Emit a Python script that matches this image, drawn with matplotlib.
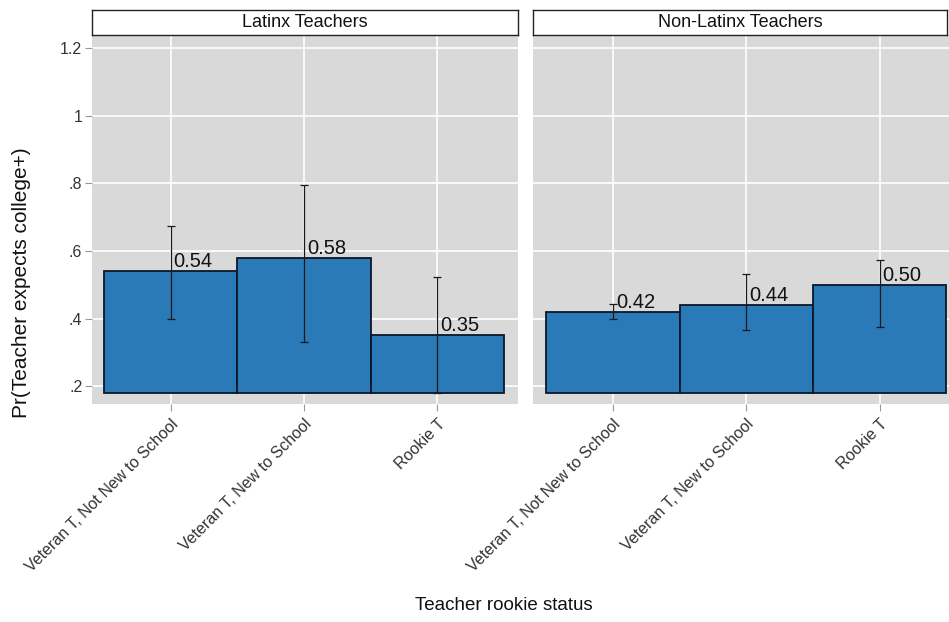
import matplotlib.pyplot as plt

plt.rcParams['font.family'] = ['Liberation Sans', 'DejaVu Sans']

# predicted probabilities by teacher rookie status
categories = ["Veteran T, Not New to School", "Veteran T, New to School", "Rookie T"]
panels = ["Latinx Teachers", "Non-Latinx Teachers"]
estimates = {
    "Latinx Teachers": [0.54, 0.58, 0.35],
    "Non-Latinx Teachers": [0.42, 0.44, 0.50],
}
ci_low = {
    "Latinx Teachers": [0.40, 0.33, 0.18],
    "Non-Latinx Teachers": [0.40, 0.366, 0.375],
}
ci_high = {
    "Latinx Teachers": [0.675, 0.795, 0.522],
    "Non-Latinx Teachers": [0.443, 0.531, 0.573],
}
ytick_vals = [0.2, 0.4, 0.6, 0.8, 1.0, 1.2]
ytick_labels = [".2", ".4", ".6", ".8", "1", "1.2"]

BASE = 0.18
BG = '#d9d9d9'
BAR = '#2a7ab7'
EDGE = '#0e1726'

fig = plt.figure(figsize=(9.49, 6.22), dpi=100)

W, H = 949, 622
panel_px = [(92, 518, 0.41, 3.605), (533, 949, 0.40, 3.52)]

for i, name in enumerate(panels):
    x0, x1, xl, xr = panel_px[i]
    ax = fig.add_axes([x0 / W, (H - 404) / H, (x1 - x0) / W, 368 / H])
    ax.set_facecolor(BG)
    for s in ax.spines.values():
        s.set_visible(False)

    xs = [1, 2, 3]
    vals = estimates[name]
    heights = [v - BASE for v in vals]
    ax.bar(xs, heights, width=1.0, bottom=BASE, color=BAR,
           edgecolor=EDGE, linewidth=1.3, zorder=3)

    lo = [v - l for v, l in zip(vals, ci_low[name])]
    hi = [h - v for v, h in zip(vals, ci_high[name])]
    ax.errorbar(xs, vals, yerr=[lo, hi], fmt='none', ecolor='#1a1a1a',
                elinewidth=0.9, capsize=3, capthick=0.9, zorder=4)

    for x, v in zip(xs, vals):
        ax.annotate(f"{v:.2f}", (x, v), xytext=(2, 0), textcoords='offset points',
                    ha='left', va='bottom', fontsize=14.5, color='#111111', zorder=5)

    ax.set_xlim(xl, xr)
    ax.set_ylim(0.147, 1.236)
    ax.set_yticks(ytick_vals)
    ax.set_xticks(xs)
    ax.grid(True, color='white', linewidth=1.2, zorder=0)
    ax.set_axisbelow(True)
    ax.set_xticklabels(categories, rotation=45, ha='right', rotation_mode='anchor',
                       fontsize=11.5, color='#333333')
    ax.tick_params(axis='x', length=5, color='#999999', pad=4)
    if i == 0:
        ax.set_yticklabels(ytick_labels, fontsize=11.5, color='#333333')
        ax.tick_params(axis='y', length=5, color='#999999', pad=2)
    else:
        ax.tick_params(axis='y', left=False, labelleft=False)

    # facet strip above each panel
    sx1 = min(x1, 947)
    strip = fig.add_axes([x0 / W, (H - 35) / H, (sx1 - x0) / W, 25 / H])
    strip.set_xticks([])
    strip.set_yticks([])
    for s in strip.spines.values():
        s.set_color('#222222')
        s.set_linewidth(1.0)
    strip.text(0.5, 0.5, name, ha='center', va='center', fontsize=13,
               color='#111111', transform=strip.transAxes)

fig.text(22 / W, 1 - 283 / H, "Pr(Teacher expects college+)", rotation=90,
         ha='center', va='center', fontsize=15, color='#111111')
fig.text(504 / W, 1 - 606 / H, "Teacher rookie status", ha='center', va='center',
         fontsize=13.5, color='#111111')

fig.savefig('out.png', dpi=100)
